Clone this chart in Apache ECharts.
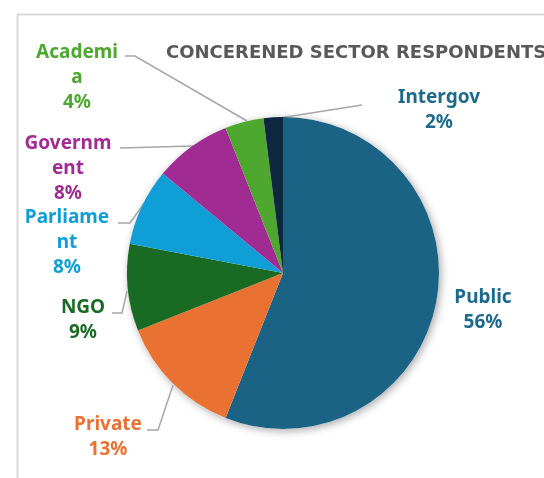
<!DOCTYPE html>
<html>
<head>
    <meta charset="utf-8">
    <title>ECharts</title>
    <script src="https://cdn.jsdelivr.net/npm/echarts@6/dist/echarts.min.js"></script>
    <style type="text/css">
    body { margin: 0; background: #fff; }
    </style>
</head>
<body>
    <div id="main" style="width: 544px;height:478px;"></div>
    <script type="text/javascript">
        // sectors, clockwise from 12 o'clock
        var sectors = ['Public', 'Private', 'NGO', 'Parliament', 'Government', 'Academia', 'Intergov'];
        var shares = [56, 13, 9, 8, 8, 4, 2];
        // label text as wrapped in the picture
        var labelText = ['Public', 'Private', 'NGO', 'Parliame\nnt', 'Governm\nent', 'Academi\na', 'Intergov'];
        var colors = ['#1a6385', '#e97132', '#196b24', '#0f9ed5', '#a02b93', '#4ea72e', '#0e2841'];
        var labelColors = ['#1d6a8c', '#e97132', '#196b24', '#0f9ed5', '#a02b93', '#4ea72e', '#1d6a8c'];

        // where each label sits (text block top-centre) and its leader line
        var labelPos = [
            { x: 483, y: 285, line: null },
            { x: 108, y: 412, line: [[173, 385], [158, 430], [147, 430]] },
            { x: 83, y: 295, line: [[127, 291], [122, 313], [112, 313]] },
            { x: 67, y: 205, line: [[145, 202], [130, 223], [118, 223]] },
            { x: 68, y: 131, line: [[193, 146], [120, 148]] },
            { x: 77, y: 40, line: [[247, 121], [135, 56], [125, 56]] },
            { x: 439, y: 85, line: [[273, 119], [362, 105]] }
        ];

        var total = 0;
        for (var i = 0; i < shares.length; i++) total += shares[i];

        var pieData = [];
        for (var i = 0; i < sectors.length; i++) {
            pieData.push({
                name: sectors[i],
                value: shares[i],
                itemStyle: { color: colors[i] },
                label: { color: labelColors[i] },
                labelLine: { show: labelPos[i].line != null }
            });
        }

        var myChart = echarts.init(document.getElementById('main'));
        var option = {
            backgroundColor: '#fff',
            animation: false,
            graphic: [{
                type: 'rect',
                left: 15, top: 12,
                shape: { width: 600, height: 520 },
                style: { fill: 'none', stroke: '#d9d9d9', lineWidth: 2 },
                z: -10
            }],
            title: {
                text: 'CONCERENED SECTOR RESPONDENTS',
                left: 161, top: 39,
                textStyle: {
                    fontFamily: 'DejaVu Sans', fontWeight: 'bold',
                    fontSize: 18, color: '#595959'
                }
            },
            series: [{
                // shadow under the pie
                type: 'pie',
                silent: true,
                center: [283, 273],
                radius: 156,
                z: 1,
                label: { show: false },
                labelLine: { show: false },
                itemStyle: {
                    color: '#fff',
                    shadowBlur: 9, shadowOffsetX: 2, shadowOffsetY: 2,
                    shadowColor: 'rgba(0,0,0,0.35)'
                },
                data: [{ name: 'all', value: total }]
            }, {
                type: 'pie',
                center: [283, 273],
                radius: 156,
                startAngle: 90,
                clockwise: true,
                z: 2,
                itemStyle: { borderWidth: 0 },
                label: {
                    show: true,
                    position: 'outside',
                    fontFamily: 'Noto Sans',
                    fontWeight: 'bold',
                    fontSize: 19,
                    lineHeight: 25,
                    align: 'center',
                    width: 120,
                    overflow: 'none',
                    formatter: function (p) {
                        return labelText[p.dataIndex] + '\n' + p.value + '%';
                    }
                },
                labelLine: {
                    show: true,
                    lineStyle: { color: '#a6a6a6', width: 1.5 }
                },
                labelLayout: function (p) {
                    var lp = labelPos[p.dataIndex];
                    var out = { x: lp.x, y: lp.y, align: 'center', verticalAlign: 'top', width: 120 };
                    if (lp.line) out.labelLinePoints = lp.line;
                    return out;
                },
                data: pieData
            }]
        };
        myChart.setOption(option);
    </script>
</body>
</html>
